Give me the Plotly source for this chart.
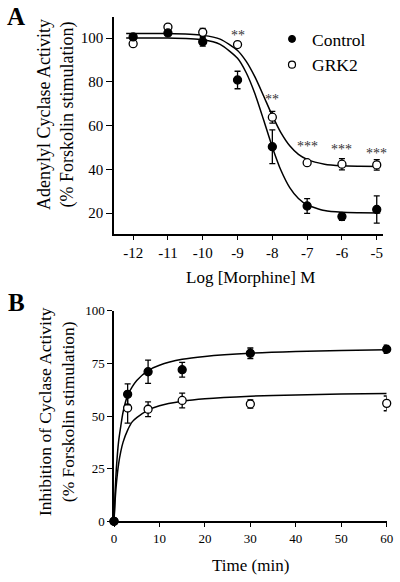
import plotly.graph_objects as go

# ---------------- Panel A data ----------------
log_morphine = [-12, -11, -10, -9, -8, -7, -6, -5]
ctrl_a = [100.5, 102.3, 98.3, 80.8, 50.3, 23.2, 18.4, 21.6]
ctrl_a_err = [0, 0, 2.0, 4.0, 7.7, 3.4, 1.8, 6.2]
grk2_a = [97.4, 105.0, 102.6, 97.0, 63.8, 43.0, 42.3, 42.0]
grk2_a_err = [0, 0, 1.8, 0, 2.7, 0, 2.6, 2.4]

# fitted curves
fit_a_x = [-12.2, -11, -10, -9.5, -9, -8.75, -8.5, -8.25, -8.0, -7.75, -7.5, -7.25, -7.0, -6.5, -6.0, -5.5, -4.9]
fit_a_ctrl = [100, 100, 99.2, 97.1, 90.7, 84.1, 74.5, 62.5, 50.1, 39.4, 31.6, 26.6, 23.7, 21.1, 20.3, 20.1, 20.0]
fit_a_grk2 = [102, 102, 101.2, 99.5, 94.3, 89.3, 82.2, 73.5, 64.5, 56.6, 50.7, 46.8, 44.5, 42.3, 41.6, 41.4, 41.3]

sig_x = [-9, -8, -7, -6, -5]
sig_y = [101.2, 71.8, 50.5, 49.0, 47.4]
sig_labels = ["**", "**", "***", "***", "***"]
tick_a_x = [-12, -11, -10, -9, -8, -7, -6, -5]
tick_a_x_labels = ["-12", "-11", "-10", "-9", "-8", "-7", "-6", "-5"]
tick_a_y = [20, 40, 60, 80, 100]

# ---------------- Panel B data ----------------
time_min = [0, 3, 7.5, 15, 30, 60]
ctrl_b = [0, 60.3, 71.0, 72.0, 79.8, 81.7]
ctrl_b_err = [0, 5.0, 5.5, 3.5, 2.5, 2.0]
grk2_b = [0, 53.8, 53.2, 57.4, 55.7, 56.0]
grk2_b_err = [0, 7.2, 3.5, 3.5, 2.0, 3.5]

fit_b_t = [0, 0.25, 0.5, 1, 1.5, 2, 3, 4, 5, 7.5, 10, 15, 20, 30, 40, 50, 60]
fit_b_ctrl = [0, 14.4, 24.4, 37.7, 45.3, 51.9, 59.8, 63.8, 66.9, 71.6, 74.1, 76.9, 78.3, 79.8, 80.6, 81.1, 81.4]
fit_b_grk2 = [0, 10.0, 17.2, 27.0, 33.2, 37.6, 43.3, 47.2, 49.2, 52.8, 54.9, 57.0, 58.2, 59.4, 60.0, 60.4, 60.7]
tick_b_x = [0, 10, 20, 30, 40, 50, 60]
tick_b_y = [0, 25, 50, 75, 100]

FONT = "Times New Roman, Liberation Serif, serif"
BLACK = "#000000"

fig = go.Figure()

def curve(x, y, xa, ya):
    fig.add_trace(go.Scatter(x=x, y=y, mode="lines", xaxis=xa, yaxis=ya,
                             line=dict(color=BLACK, width=1.5, shape="spline", smoothing=0.6),
                             showlegend=False, hoverinfo="skip", cliponaxis=False))

def points(x, y, err, xa, ya, filled, name, legend):
    fig.add_trace(go.Scatter(
        x=x, y=y, mode="markers", xaxis=xa, yaxis=ya, name=name, showlegend=legend,
        error_y=dict(type="data", array=err, visible=True, color=BLACK, thickness=1.3, width=3),
        marker=dict(symbol="circle", size=8, color=BLACK if filled else "white",
                    line=dict(color=BLACK, width=1.3)),
        cliponaxis=False))

# Panel A
curve(fit_a_x, fit_a_ctrl, "x", "y")
curve(fit_a_x, fit_a_grk2, "x", "y")
points(log_morphine, grk2_a, grk2_a_err, "x", "y", False, "GRK2", False)
points(log_morphine, ctrl_a, ctrl_a_err, "x", "y", True, "Control", False)

# legend-only traces
fig.add_trace(go.Scatter(x=[None], y=[None], mode="markers", name="Control", xaxis="x", yaxis="y",
                         marker=dict(symbol="circle", size=7, color=BLACK, line=dict(color=BLACK, width=1))))
fig.add_trace(go.Scatter(x=[None], y=[None], mode="markers", name="GRK2", xaxis="x", yaxis="y",
                         marker=dict(symbol="circle", size=7, color="white", line=dict(color=BLACK, width=1.2))))

# Panel B
curve(fit_b_t, fit_b_ctrl, "x2", "y2")
curve(fit_b_t, fit_b_grk2, "x2", "y2")
points(time_min, grk2_b, grk2_b_err, "x2", "y2", False, "GRK2", False)
points(time_min, ctrl_b, ctrl_b_err, "x2", "y2", True, "Control", False)

axis_common = dict(showline=True, linecolor=BLACK, linewidth=1.5, ticks="outside",
                   tickcolor=BLACK, tickwidth=1.2, showgrid=False, zeroline=False,
                   mirror=False, automargin=False)

annotations = []
for sx, sy, sl in zip(sig_x, sig_y, sig_labels):
    annotations.append(dict(x=sx, y=sy, xref="x", yref="y", text=sl, showarrow=False,
                            font=dict(family=FONT, size=14, color="#333333"),
                            xanchor="center", yanchor="middle"))

annotations += [
    dict(x=0.04, y=0.9725, xref="paper", yref="paper", text="<b>A</b>", showarrow=False,
         font=dict(family=FONT, size=25, color=BLACK), xanchor="center", yanchor="middle"),
    dict(x=0.04, y=0.4802, xref="paper", yref="paper", text="<b>B</b>", showarrow=False,
         font=dict(family=FONT, size=25, color=BLACK), xanchor="center", yanchor="middle"),
    dict(x=56 / 400, y=1 - 115 / 582, xref="paper", yref="paper",
         text="Adenylyl Cyclase Activity<br>(% Forskolin stimulation)", textangle=-90,
         showarrow=False, font=dict(family=FONT, size=18, color=BLACK),
         xanchor="center", yanchor="middle"),
    dict(x=251 / 400, y=1 - 277 / 582, xref="paper", yref="paper",
         text="Log [Morphine] M", showarrow=False, font=dict(family=FONT, size=17, color=BLACK),
         xanchor="center", yanchor="middle"),
    dict(x=56 / 400, y=1 - 412 / 582, xref="paper", yref="paper",
         text="Inhibition of Cyclase Activity<br>(% Forskolin stimulation)", textangle=-90,
         showarrow=False, font=dict(family=FONT, size=17.5, color=BLACK),
         xanchor="center", yanchor="middle"),
    dict(x=250 / 400, y=1 - 565 / 582, xref="paper", yref="paper",
         text="Time (min)", showarrow=False, font=dict(family=FONT, size=17, color=BLACK),
         xanchor="center", yanchor="middle"),
]

fig.update_layout(
    template="none",
    width=400, height=582, margin=dict(l=0, r=0, t=0, b=0, pad=0, autoexpand=False),
    paper_bgcolor="white", plot_bgcolor="white",
    font=dict(family=FONT, color=BLACK),
    xaxis=dict(domain=[114 / 400, 383 / 400], range=[-12.55, -4.82], anchor="y",
               tickvals=tick_a_x, ticktext=tick_a_x_labels, ticklen=4,
               tickfont=dict(family=FONT, size=15, color=BLACK), **axis_common),
    yaxis=dict(domain=[1 - 234 / 582, 1 - 17 / 582], range=[10.4, 109.6], anchor="x",
               tickvals=tick_a_y, ticklen=6,
               tickfont=dict(family=FONT, size=15, color=BLACK), **axis_common),
    xaxis2=dict(domain=[114 / 400, 386.7 / 400], range=[0, 60], anchor="y2",
                tickvals=tick_b_x, ticklen=4,
                tickfont=dict(family=FONT, size=13, color=BLACK), **axis_common),
    yaxis2=dict(domain=[1 - 521.3 / 582, 1 - 310.7 / 582], range=[0, 100], anchor="x2",
                tickvals=tick_b_y, ticklen=5,
                tickfont=dict(family=FONT, size=13, color=BLACK), **axis_common),
    legend=dict(x=272 / 400, y=1 - 21 / 582, xanchor="left", yanchor="top",
                font=dict(family=FONT, size=17.5, color=BLACK), bgcolor="rgba(0,0,0,0)",
                borderwidth=0, tracegroupgap=0),
    annotations=annotations,
    showlegend=True,
)

fig.write_html("out.html", config={"displayModeBar": False},
               post_script="document.body.style.margin='0';document.body.style.overflow='hidden';")
